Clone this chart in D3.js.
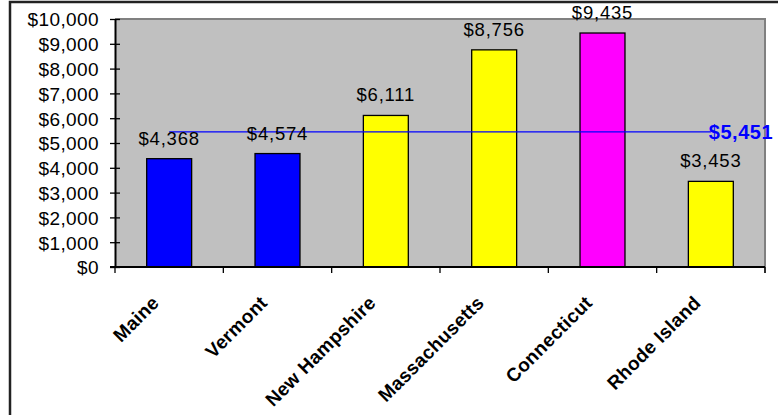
<!DOCTYPE html>
<html><head><meta charset="utf-8">
<script src="https://cdn.jsdelivr.net/npm/d3@7"></script>
<style>body{margin:0;background:#fff;}svg{display:block;font-family:"Liberation Sans",Arial,sans-serif;}</style>
</head><body>
<svg id="c" width="778" height="415"></svg>
<script>
const categories = ["Maine","Vermont","New Hampshire","Massachusetts","Connecticut","Rhode Island"];
const values = [4368,4574,6111,8756,9435,3453];
const barColors = ["#0000ff","#0000ff","#ffff00","#ffff00","#ff00ff","#ffff00"];
const averageValue = 5451;
const yTicks = [0,1000,2000,3000,4000,5000,6000,7000,8000,9000,10000];

const svg = d3.select("#c");
const L = 115, R = 765, T = 19, B = 267;
const fmt = v => "$" + d3.format(",")(v);

// outer frame
svg.append("rect").attr("x",10).attr("y",2).attr("width",800).attr("height",500)
  .attr("fill","none").attr("stroke","#222").attr("stroke-width",2.5);

const x = d3.scaleBand().domain(categories).range([L,R]).paddingInner(0.585).paddingOuter(0.2925);
const xb = d3.scaleBand().domain(categories).range([L,R]);
const y = d3.scaleLinear().domain([0,10000]).range([B,T]);

// plot area
svg.append("rect").attr("x",L).attr("y",T).attr("width",R-L).attr("height",B-T)
  .attr("fill","#c0c0c0").attr("stroke","none");
svg.append("path").attr("d",`M${L},${T}H${R}V${B+6}`).attr("fill","none").attr("stroke","#808080").attr("stroke-width",2);

// bars
svg.selectAll("rect.bar").data(values).join("rect").attr("class","bar")
  .attr("x",(d,i)=>x(categories[i])).attr("width",x.bandwidth())
  .attr("y",d=>y(d)).attr("height",d=>B-y(d))
  .attr("fill",(d,i)=>barColors[i]).attr("stroke","#000").attr("stroke-width",1.3);

// average line
const centers = categories.map(c=>xb(c)+xb.bandwidth()/2);
svg.append("line").attr("x1",centers[0]).attr("x2",centers[centers.length-1])
  .attr("y1",y(averageValue)).attr("y2",y(averageValue)).attr("stroke","#0000ff").attr("stroke-width",1.3);
svg.append("text").attr("x",centers[centers.length-1]-2).attr("y",y(averageValue)+7)
  .attr("fill","#0000ff").attr("font-weight","bold").attr("font-size",20).attr("letter-spacing",0.5)
  .text(fmt(averageValue));

// data labels
svg.selectAll("text.dl").data(values).join("text").attr("class","dl")
  .attr("x",(d,i)=>centers[i]).attr("y",d=>y(d)-14).attr("text-anchor","middle")
  .attr("font-size",18.5).attr("letter-spacing",0.8).attr("fill","#000").text(d=>fmt(d));

// y axis
const yAxis = d3.axisLeft(y).tickValues(yTicks).tickFormat(fmt).tickSizeInner(5).tickSizeOuter(0).tickPadding(11);
const gy = svg.append("g").attr("transform",`translate(${L},0)`).call(yAxis);
gy.select(".domain").attr("stroke","#000").attr("stroke-width",2);
gy.selectAll(".tick line").attr("x1",-5).attr("x2",5).attr("stroke","#000").attr("stroke-width",1.3);
gy.selectAll(".tick text").attr("font-size",19).attr("letter-spacing",0.4).attr("fill","#000").attr("font-family","Liberation Sans, Arial, sans-serif").attr("dy","0.36em");

// x axis
const gx = svg.append("g").attr("transform",`translate(0,${B})`);
gx.append("line").attr("x1",L-5).attr("x2",R).attr("stroke","#000").attr("stroke-width",2);
const bounds = categories.map(c=>xb(c)).concat([R]);
gx.selectAll("line.xt").data(bounds).join("line").attr("class","xt")
  .attr("x1",d=>d).attr("x2",d=>d).attr("y1",0).attr("y2",6).attr("stroke","#000").attr("stroke-width",1.3);
gx.selectAll("text.xl").data(categories).join("text").attr("class","xl")
  .attr("transform",(d,i)=>`translate(${centers[i]-9},${37}) rotate(-45)`)
  .attr("text-anchor","end").attr("font-weight","bold").attr("font-size",19).attr("letter-spacing",0.3)
  .attr("fill","#000").text(d=>d);
</script>
</body></html>
